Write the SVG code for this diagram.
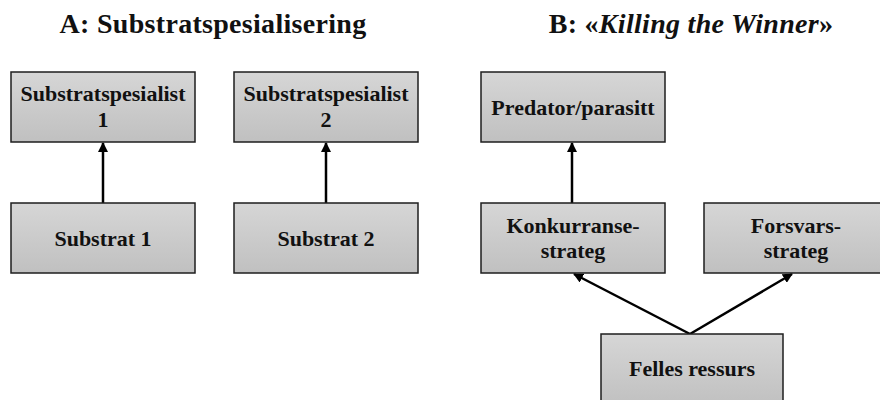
<svg xmlns="http://www.w3.org/2000/svg" width="880" height="400" viewBox="0 0 880 400">
<style>
  .box { fill: url(#g); stroke: #1e1e1e; stroke-width: 1.5; }
  .t { font-family: 'Liberation Serif', 'Times New Roman', Times, serif; font-weight: bold; font-size: 22px; fill: #111; text-anchor: middle; }
  .title { font-family: 'Liberation Serif', 'Times New Roman', Times, serif; font-weight: bold; font-size: 28px; letter-spacing: 0.3px; fill: #111; text-anchor: middle; }
  .c { stroke: #000; stroke-width: 2.5; fill: none; marker-end: url(#ah); }
</style>
<defs>
  <linearGradient id="g" x1="0" y1="0" x2="0" y2="1">
    <stop offset="0" stop-color="#d6d6d6"/>
    <stop offset="1" stop-color="#c0c0c0"/>
  </linearGradient>
  <marker id="ah" viewBox="0 0 10 10" refX="9" refY="5" markerWidth="4" markerHeight="4" orient="auto" markerUnits="strokeWidth">
    <path d="M0,0 L10,5 L0,10 z" fill="#000"/>
  </marker>
</defs>
<rect width="880" height="400" fill="#fff"/>
<text class="title" x="213" y="33">A: Substratspesialisering</text>
<text class="title" x="691" y="33">B: «<tspan font-style="italic">Killing the Winner</tspan>»</text>
<g id="connectors">
  <line class="c" x1="103" y1="203" x2="103" y2="143"/>
  <line class="c" x1="326" y1="203" x2="326" y2="143"/>
  <line class="c" x1="572" y1="203" x2="572" y2="143"/>
  <line class="c" x1="690" y1="334" x2="574" y2="274"/>
  <line class="c" x1="690" y1="334" x2="792" y2="274"/>
</g>
<g id="n-spes1"><rect class="box" x="11" y="72" width="184" height="70"/><text class="t" x="103" y="101">Substratspesialist</text><text class="t" x="103" y="127">1</text></g>
<g id="n-spes2"><rect class="box" x="234" y="72" width="184" height="70"/><text class="t" x="326" y="101">Substratspesialist</text><text class="t" x="326" y="127">2</text></g>
<g id="n-pred"><rect class="box" x="481" y="72" width="184" height="70"/><text class="t" x="573" y="115">Predator/parasitt</text></g>
<g id="n-sub1"><rect class="box" x="11" y="203" width="184" height="70"/><text class="t" x="103" y="246">Substrat 1</text></g>
<g id="n-sub2"><rect class="box" x="234" y="203" width="184" height="70"/><text class="t" x="326" y="246">Substrat 2</text></g>
<g id="n-konk"><rect class="box" x="481" y="203" width="184" height="70"/><text class="t" x="573" y="233">Konkurranse-</text><text class="t" x="573" y="258">strateg</text></g>
<g id="n-fors"><rect class="box" x="704" y="203" width="184" height="70"/><text class="t" x="796" y="233">Forsvars-</text><text class="t" x="796" y="258">strateg</text></g>
<g id="n-felles"><rect class="box" x="601" y="334" width="182" height="72"/><text class="t" x="692" y="376">Felles ressurs</text></g>
</svg>
